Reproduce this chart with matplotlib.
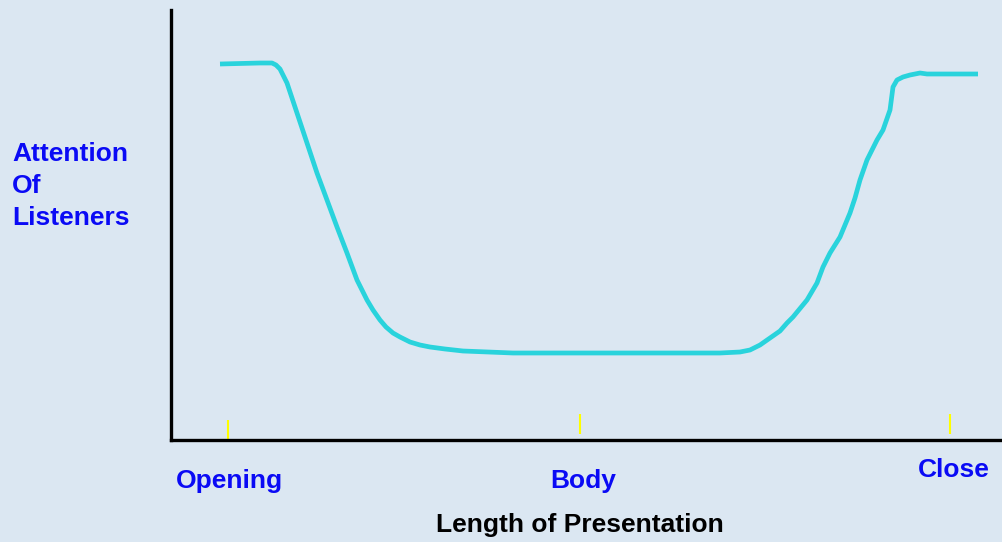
import matplotlib.pyplot as plt

# Attention curve (length along x, attention up the y axis)
length = [49, 89, 101, 105, 109, 116, 126, 136, 146, 156, 166, 176, 186, 196, 202,
          209, 215, 222, 229, 239, 249, 259, 274, 292, 342, 442, 509, 549, 569, 579,
          589, 599, 609, 616, 622, 636, 646, 652, 659, 669, 679, 684, 689, 696, 706,
          712, 719, 722, 726, 732, 739, 749, 756, 807]
attention = [376, 377, 377, 375, 371, 357, 327, 297, 267, 240, 213, 187, 160, 140, 130,
             120, 113, 107, 103, 98, 95, 93, 91, 89, 87, 87, 87, 87, 88, 90,
             95, 102, 109, 117, 123, 140, 157, 173, 187, 203, 227, 242, 260, 280, 300,
             310, 330, 353, 360, 363, 365, 367, 366, 366]

# Section markers on the x axis
sections = ['Opening', 'Body', 'Close']
section_pos = [57, 409, 779]

W, H = 1003, 542
bg = '#DBE7F2'
blue = '#0A0AF5'

fig = plt.figure(figsize=(W / 100, H / 100), dpi=100, facecolor=bg)
ax = fig.add_axes([171 / W, 102 / H, (W - 171) / W, 430 / H])
ax.set_facecolor(bg)
ax.set_xlim(0, W - 171)
ax.set_ylim(0, 430)

for s in ['top', 'right']:
    ax.spines[s].set_visible(False)
for s in ['left', 'bottom']:
    ax.spines[s].set_linewidth(2.4)
    ax.spines[s].set_color('black')
ax.set_xticks([])
ax.set_yticks([])

ax.plot(length, attention, color='#29D3DC', lw=3.4, solid_capstyle='butt',
        solid_joinstyle='round')

# yellow section ticks
ax.vlines(section_pos[0], 0, 20, color='#FFFF00', lw=1.5)
ax.vlines(section_pos[1:], 6, 26, color='#FFFF00', lw=1.5)

font = dict(family=['Liberation Sans', 'DejaVu Sans'], fontsize=19, fontweight='bold')


def px(x, y):
    return x / W, 1 - y / H


label_xy = [(229, 481), (583, 481), (954, 470)]
for name, (x, y) in zip(sections, label_xy):
    fig.text(*px(x, y), name, color=blue, ha='center', va='center', **font)

fig.text(*px(580, 525), 'Length of Presentation', color='black',
         ha='center', va='center', **font)

for i, word in enumerate(['Attention', 'Of', 'Listeners']):
    fig.text(*px(12, 154 + 32 * i), word, color=blue, ha='left', va='center', **font)

fig.savefig('out.png', dpi=100, facecolor=bg)
